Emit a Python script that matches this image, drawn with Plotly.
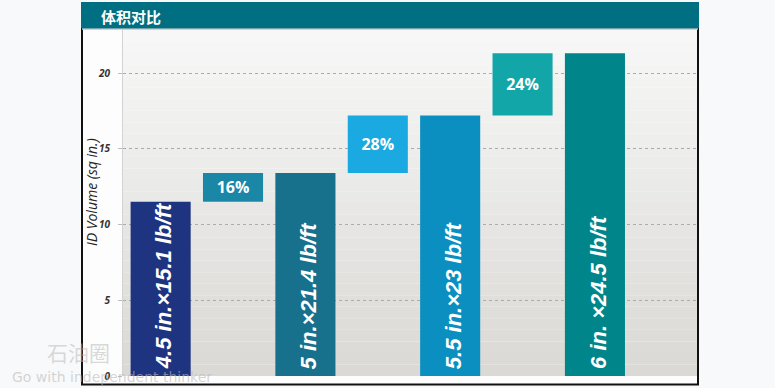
import plotly.graph_objects as go

# ---- data ----
bar_labels = ["4.5 in.×15.1 lb/ft", "5 in.×21.4 lb/ft", "5.5 in.×23 lb/ft", "6 in. ×24.5 lb/ft"]
volumes = [11.5, 13.4, 17.2, 21.3]
pct_labels = ["16%", "28%", "24%"]
y_ticks = [0, 5, 10, 15, 20]
title_text = "体积对比"
y_title = "ID Volume (sq in.)"

bar_colors = ["#1e3480", "#17708c", "#0a8fc0", "#00868a"]
step_colors = ["#1b87a7", "#1aa9e0", "#13a6a8"]

W, H = 775, 388
L, R, T, B = 123, 697, 30, 376  # plot area in pixels


def px(xp):
    return (xp - L) / (R - L)


def py(yp):
    return (B - yp) / (B - T)


bar_x = [2 * i for i in range(len(volumes))]
step_x = [2 * i + 1 for i in range(len(pct_labels))]
step_base = volumes[:-1]
step_h = [volumes[i + 1] - volumes[i] for i in range(len(pct_labels))]

fig = go.Figure()
fig.add_trace(go.Bar(x=bar_x, y=volumes, width=0.83, marker=dict(color=bar_colors, line=dict(width=0)),
                     showlegend=False, hoverinfo="skip"))
fig.add_trace(go.Bar(x=step_x, y=step_h, base=step_base, width=0.83,
                     marker=dict(color=step_colors, line=dict(width=0)),
                     text=pct_labels, textposition="inside", insidetextanchor="middle", textangle=0,
                     textfont=dict(family="Open Sans", size=16, color="white", weight="bold"),
                     showlegend=False, hoverinfo="skip"))

shapes = []
# panel white area
shapes.append(dict(type="rect", xref="paper", yref="paper", x0=px(82), x1=px(698), y0=py(385), y1=py(28),
                   fillcolor="#fdfdfd", line=dict(width=0), layer="below"))
# plot background gradient
n = 30
top_c = (247, 247, 247)
bot_c = (218, 217, 213)
for k in range(n):
    t = k / (n - 1)
    c = tuple(round(top_c[j] + (bot_c[j] - top_c[j]) * t) for j in range(3))
    shapes.append(dict(type="rect", xref="paper", yref="paper", x0=0, x1=1,
                       y0=1 - (k + 1) / n, y1=1 - k / n, fillcolor="rgb(%d,%d,%d)" % c,
                       line=dict(width=0), layer="below"))
# panel border
shapes.append(dict(type="rect", xref="paper", yref="paper", x0=px(82), x1=px(698), y0=py(384.5), y1=py(28),
                   fillcolor="rgba(0,0,0,0)", line=dict(color="#111", width=2), layer="above"))
# title bar
shapes.append(dict(type="rect", xref="paper", yref="paper", x0=px(81), x1=px(699), y0=py(28), y1=py(2),
                   fillcolor="#006f81", line=dict(width=0), layer="above"))
shapes.append(dict(type="line", xref="paper", yref="paper", x0=px(82), x1=px(698), y0=py(29), y1=py(29),
                   line=dict(color="#9ad4e2", width=1.5), layer="above"))

annotations = []
annotations.append(dict(text=title_text, xref="paper", yref="paper", x=px(99), y=py(16), xanchor="left",
                        yanchor="middle", showarrow=False,
                        font=dict(family="Noto Sans CJK SC", size=15, color="white", weight="bold")))
annotations.append(dict(text=y_title, xref="paper", yref="paper", x=px(91), y=py(192), xanchor="center",
                        yanchor="middle", textangle=-90, showarrow=False,
                        font=dict(family="Open Sans", size=14, color="#222", style="italic")))
for xi, lab in zip(bar_x, bar_labels):
    annotations.append(dict(text=lab, x=xi, y=0, xref="x", yref="y", textangle=-90, xanchor="center",
                            yanchor="bottom", yshift=5, xshift=3, showarrow=False,
                            font=dict(family="Liberation Sans", size=22, color="white",
                                      weight="bold", style="italic")))
# watermark
annotations.append(dict(text="石油圈", xref="paper", yref="paper", x=px(78), y=py(352), xanchor="center",
                        yanchor="middle", showarrow=False,
                        font=dict(family="Noto Sans CJK SC", size=21, color="rgba(185,185,185,0.55)")))
annotations.append(dict(text="Go with independent thinker", xref="paper", yref="paper", x=px(10), y=py(377),
                        xanchor="left", yanchor="middle", showarrow=False,
                        font=dict(family="DejaVu Sans", size=14, color="rgba(185,185,185,0.6)")))

fig.update_layout(
    width=W, height=H,
    autosize=False,
    margin=dict(l=L, r=W - R, t=T, b=H - B, pad=0, autoexpand=False),
    paper_bgcolor="#f8f9fb",
    plot_bgcolor="rgba(0,0,0,0)",
    barmode="overlay",
    shapes=shapes,
    annotations=annotations,
    xaxis=dict(range=[-0.52, 7.41], showgrid=False, zeroline=False, showticklabels=False, ticks="",
               showline=False, fixedrange=True, automargin=False),
    yaxis=dict(range=[0, 22.84], tickvals=y_ticks, showgrid=True, gridcolor="#ababab", griddash="dot",
               gridwidth=1, zeroline=False, showline=True, linecolor="#d3d3d3", linewidth=1,
               ticks="outside", ticklen=4, tickcolor="#bbbbbb", ticklabelstandoff=6, automargin=False,
               tickfont=dict(family="Open Sans", size=10, color="#333", weight="bold", style="italic")),
)

fig.write_html("out.html", config={"displayModeBar": False, "responsive": False},
               post_script="document.body.style.margin='0';document.body.style.overflow='hidden';")
